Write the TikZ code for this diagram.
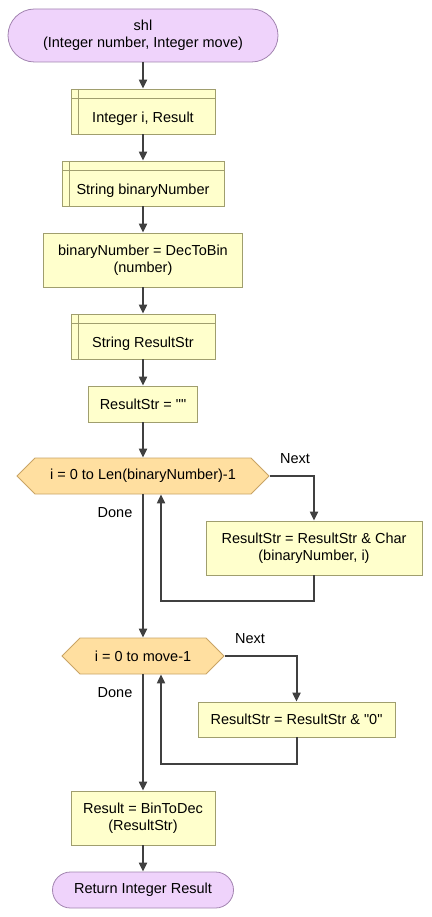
\documentclass[tikz,border=0pt]{standalone}
\usepackage{fontspec}
\setmainfont{Liberation Sans}
\usepackage{xcolor}
\usetikzlibrary{arrows.meta, shapes.misc, shapes.symbols}

\definecolor{termfill}{HTML}{EFD3FB}
\definecolor{termdraw}{HTML}{A284B0}
\definecolor{boxfill}{HTML}{FFFFCC}
\definecolor{boxdraw}{HTML}{A09E6E}
\definecolor{loopfill}{HTML}{FFDFA0}
\definecolor{loopdraw}{HTML}{C9A465}
\definecolor{flowline}{HTML}{404040}

\begin{document}
\begin{tikzpicture}[
x=1pt, y=-1pt,
font=\fontsize{14.5}{17.5}\selectfont,
>={Triangle[width=8pt,length=9pt]},
line width=2pt, color=flowline, text=black,
termnode/.style={rounded rectangle, draw=termdraw, fill=termfill, line width=0.8pt, inner sep=0pt, align=center},
actionnode/.style={rectangle, draw=boxdraw, fill=boxfill, line width=0.8pt, inner sep=0pt, align=center},
declnode/.style={actionnode, path picture={
  \draw[draw=boxdraw, line width=0.8pt] ([xshift=7pt]path picture bounding box.north west) -- ([xshift=7pt]path picture bounding box.south west);
  \draw[draw=boxdraw, line width=0.8pt] ([yshift=-9pt]path picture bounding box.north west) -- ([yshift=-9pt]path picture bounding box.north east);}},
loopnode/.style={signal, signal to=east and west, signal pointer angle=90, draw=loopdraw, fill=loopfill, line width=0.8pt, inner sep=0pt},
edgelabel/.style={inner sep=0pt},
]
\useasboundingbox (0,0) rectangle (431,917);

%Nodes
\node[termnode, minimum width=270pt, minimum height=53pt] (start) at (143,35.5) {shl\\(Integer number, Integer move)};
\node[declnode, minimum width=144pt, minimum height=45pt, label={[yshift=-7pt]center:Integer i, Result}] (decl_i) at (143,111.5) {};
\node[declnode, minimum width=162pt, minimum height=45pt, label={[yshift=-7pt]center:String binaryNumber}] (decl_bin) at (143,183.5) {};
\node[actionnode, minimum width=199pt, minimum height=54pt] (to_bin) at (143,260) {binaryNumber = DecToBin\\(number)};
\node[declnode, minimum width=144pt, minimum height=45pt, label={[yshift=-7pt]center:String ResultStr}] (decl_res) at (143,336.5) {};
\node[actionnode, minimum width=109pt, minimum height=36pt] (init_res) at (143,404) {ResultStr = \textquotedbl\textquotedbl};
\node[loopnode, minimum width=252pt, minimum height=36pt] (loop_bits) at (143,476) {i = 0 to Len(binaryNumber)-1};
\node[actionnode, minimum width=216pt, minimum height=54pt] (add_char) at (314,548) {ResultStr = ResultStr \& Char\\(binaryNumber, i)};
\node[loopnode, minimum width=162pt, minimum height=36pt] (loop_move) at (143,656) {i = 0 to move-1};
\node[actionnode, minimum width=197pt, minimum height=35pt] (add_zero) at (296.5,719.5) {ResultStr = ResultStr \& \textquotedbl0\textquotedbl};
\node[actionnode, minimum width=144pt, minimum height=54pt] (to_dec) at (143,818) {Result = BinToDec\\(ResultStr)};
\node[termnode, minimum width=181pt, minimum height=36pt] (stop) at (143,890) {Return Integer Result};

\node[edgelabel] (next_bits) at (295,459) {Next};
\node[edgelabel] (done_bits) at (115,513) {Done};
\node[edgelabel] (next_move) at (250,639) {Next};
\node[edgelabel] (done_move) at (115,693) {Done};

\coordinate (back_bits) at (161,601);
\coordinate (back_move) at (161,764);

%Lines
\draw[->] (start.south) -- (decl_i.north);
\draw[->] (decl_i.south) -- (decl_bin.north);
\draw[->] (decl_bin.south) -- (to_bin.north);
\draw[->] (to_bin.south) -- (decl_res.north);
\draw[->] (decl_res.south) -- (init_res.north);
\draw[->] (init_res.south) -- (loop_bits.north);
\draw[->] (loop_bits.east) -| (add_char.north);
\draw[->] (add_char.south) |- (back_bits) -- (back_bits |- loop_bits.south);
\draw[->] (loop_bits.south) -- (loop_move.north);
\draw[->] (loop_move.east) -| (add_zero.north);
\draw[->] (add_zero.south) |- (back_move) -- (back_move |- loop_move.south);
\draw[->] (loop_move.south) -- (to_dec.north);
\draw[->] (to_dec.south) -- (stop.north);

\end{tikzpicture}
\end{document}
